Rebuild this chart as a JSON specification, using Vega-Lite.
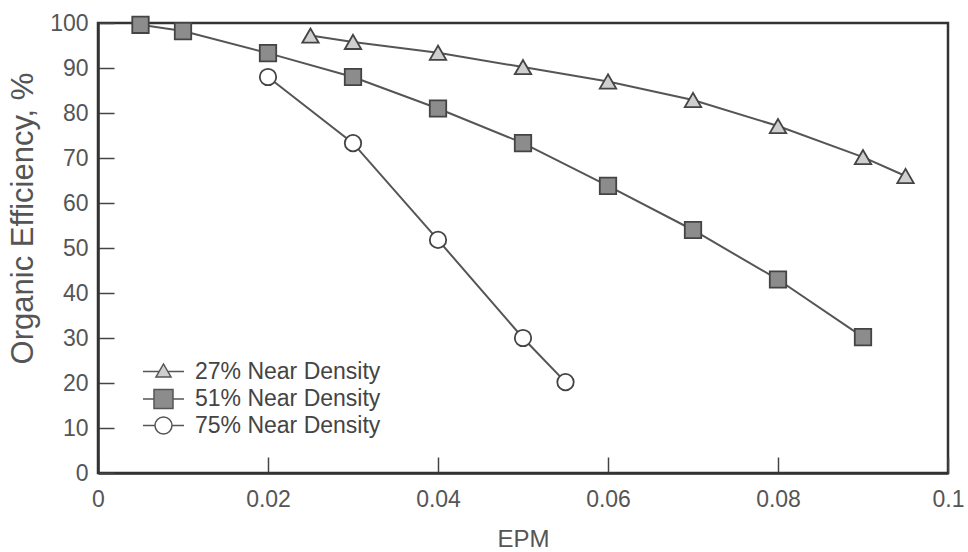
{
  "$schema": "https://vega.github.io/schema/vega-lite/v6.json",
  "width": 850,
  "height": 450,
  "autosize": "none",
  "padding": {"left": 98, "top": 23, "right": 20, "bottom": 79},
  "background": "white",
  "config": {
    "view": {"stroke": "#333", "strokeWidth": 2.5},
    "font": "Liberation Sans",
    "axis": {
      "grid": false,
      "domainColor": "#333",
      "domainWidth": 2.5,
      "tickColor": "#444",
      "tickWidth": 1.5,
      "tickSize": -16,
      "labelColor": "#555",
      "labelFontSize": 23,
      "titleColor": "#555",
      "titleFontSize": 24,
      "titleFontWeight": "normal"
    }
  },
  "data": {
    "values": [
      {"series": "27% Near Density", "epm": 0.025, "eff": 97.2},
      {"series": "27% Near Density", "epm": 0.03, "eff": 95.8},
      {"series": "27% Near Density", "epm": 0.04, "eff": 93.4},
      {"series": "27% Near Density", "epm": 0.05, "eff": 90.2},
      {"series": "27% Near Density", "epm": 0.06, "eff": 87},
      {"series": "27% Near Density", "epm": 0.07, "eff": 82.9},
      {"series": "27% Near Density", "epm": 0.08, "eff": 77.1},
      {"series": "27% Near Density", "epm": 0.09, "eff": 70.2},
      {"series": "27% Near Density", "epm": 0.095, "eff": 66},
      {"series": "51% Near Density", "epm": 0.005, "eff": 99.6},
      {"series": "51% Near Density", "epm": 0.01, "eff": 98.2},
      {"series": "51% Near Density", "epm": 0.02, "eff": 93.3},
      {"series": "51% Near Density", "epm": 0.03, "eff": 88},
      {"series": "51% Near Density", "epm": 0.04, "eff": 81},
      {"series": "51% Near Density", "epm": 0.05, "eff": 73.3},
      {"series": "51% Near Density", "epm": 0.06, "eff": 63.8},
      {"series": "51% Near Density", "epm": 0.07, "eff": 54},
      {"series": "51% Near Density", "epm": 0.08, "eff": 43},
      {"series": "51% Near Density", "epm": 0.09, "eff": 30.2},
      {"series": "75% Near Density", "epm": 0.02, "eff": 88},
      {"series": "75% Near Density", "epm": 0.03, "eff": 73.3},
      {"series": "75% Near Density", "epm": 0.04, "eff": 51.8},
      {"series": "75% Near Density", "epm": 0.05, "eff": 30},
      {"series": "75% Near Density", "epm": 0.055, "eff": 20.2}
    ]
  },
  "encoding": {
    "x": {
      "field": "epm",
      "type": "quantitative",
      "scale": {"domain": [0, 0.1], "nice": false, "zero": false},
      "axis": {"title": "EPM", "values": [0, 0.02, 0.04, 0.06, 0.08, 0.1], "format": "~g", "labelPadding": 31, "labelFlush": false, "titleY": 66, "titleBaseline": "middle"}
    },
    "y": {
      "field": "eff",
      "type": "quantitative",
      "scale": {"domain": [0, 100], "nice": false},
      "axis": {"title": "Organic Efficiency, %", "values": [0, 10, 20, 30, 40, 50, 60, 70, 80, 90, 100], "labelPadding": 26, "labelFlush": false, "titleFontSize": 31, "titleX": -75, "titleY": 195, "titleBaseline": "middle"}
    }
  },
  "resolve": {"scale": {"shape": "independent", "fill": "independent"}},
  "layer": [
    {
      "mark": {"type": "line", "color": "#555", "strokeWidth": 2},
      "encoding": {"detail": {"field": "series"}}
    },
    {
      "mark": {"type": "point", "filled": true, "stroke": "#444", "strokeWidth": 1.8, "opacity": 1, "size": 270},
      "encoding": {
        "shape": {
          "field": "series",
          "type": "nominal",
          "scale": {"domain": ["27% Near Density", "51% Near Density", "75% Near Density"], "range": ["triangle-up", "square", "circle"]},
          "legend": null
        },
        "fill": {
          "field": "series",
          "type": "nominal",
          "scale": {"domain": ["27% Near Density", "51% Near Density", "75% Near Density"], "range": ["#cfcfcf", "#8c8c8c", "#ffffff"]},
          "legend": null
        }
      }
    },
    {
      "mark": {"type": "point", "filled": true, "opacity": 1, "size": 0, "stroke": "#555", "strokeWidth": 1.8},
      "encoding": {
        "shape": {
          "field": "series",
          "type": "nominal",
          "scale": {"domain": ["27% Near Density", "51% Near Density", "75% Near Density"], "range": ["M-2.05,0H-0.45M0.45,0H2.05M0,-0.75L0.75,0.55L-0.75,0.55Z", "M-2.05,0H-0.95M0.95,0H2.05M-0.95,-0.95H0.95V0.95H-0.95Z", "M-2.05,0H-0.85M0.85,0H2.05M-0.85,0A0.85,0.85 0 1,0 0.85,0A0.85,0.85 0 1,0 -0.85,0Z"]},
          "legend": {
            "title": null,
            "orient": "none",
            "legendX": 54,
            "legendY": 337,
            "padding": 0,
            "labelFontSize": 23,
            "labelColor": "#444",
            "labelLimit": 400,
            "rowPadding": 2.5,
            "symbolSize": 400,
            "labelOffset": 20
          }
        },
        "fill": {
          "field": "series",
          "type": "nominal",
          "scale": {"domain": ["27% Near Density", "51% Near Density", "75% Near Density"], "range": ["#cfcfcf", "#8c8c8c", "#ffffff"]},
          "legend": {
            "title": null,
            "orient": "none",
            "legendX": 54,
            "legendY": 337,
            "padding": 0,
            "labelFontSize": 23,
            "labelColor": "#444",
            "labelLimit": 400,
            "rowPadding": 2.5,
            "symbolSize": 400,
            "labelOffset": 20
          }
        }
      }
    }
  ]
}
